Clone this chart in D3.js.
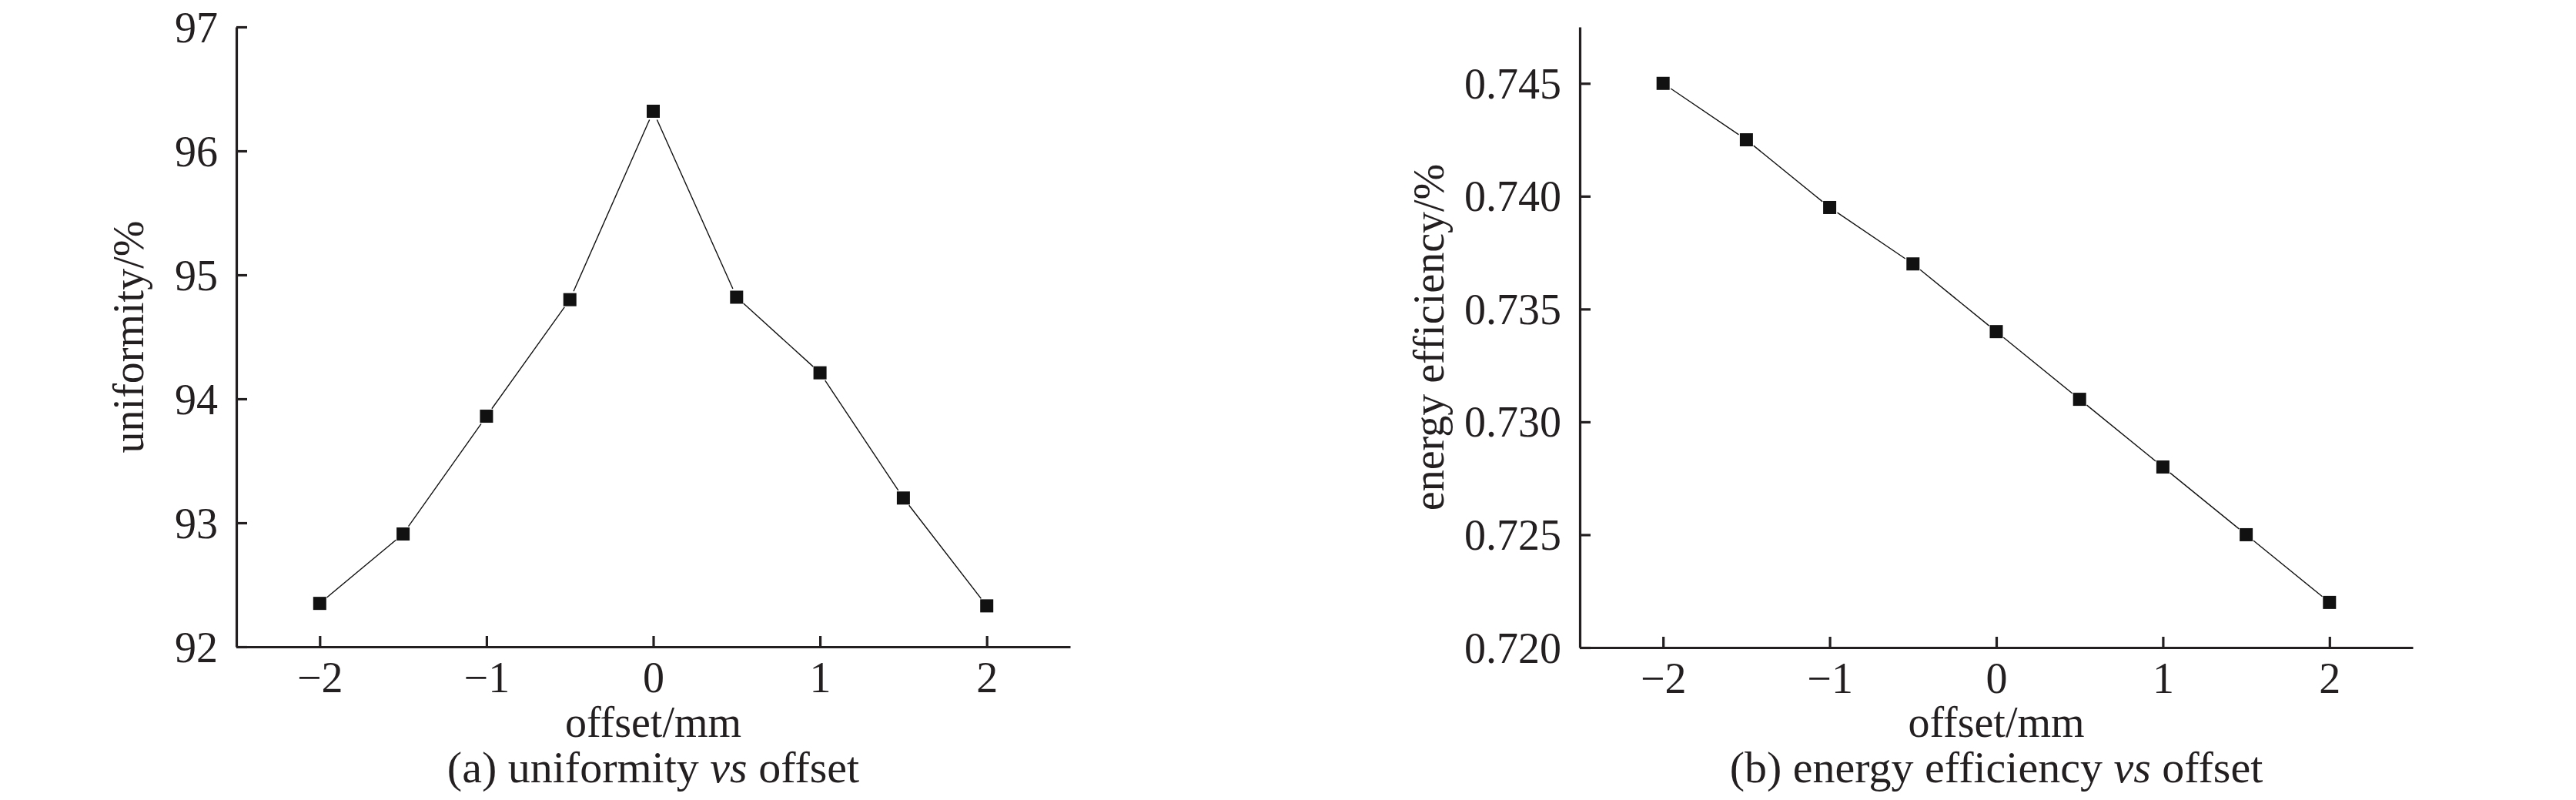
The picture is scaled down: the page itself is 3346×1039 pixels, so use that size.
<!DOCTYPE html>
<html>
<head>
<meta charset="utf-8">
<script src="https://cdn.jsdelivr.net/npm/d3@7"></script>
<style>
  body { margin: 0; background: #fff; }
  text { font-family: "Liberation Serif", "Times New Roman", serif; fill: #231f20; }
</style>
</head>
<body>
<div id="chart"></div>
<script>
// offset values (mm) shared by both panels
var offsets = [-2, -1.5, -1, -0.5, 0, 0.5, 1, 1.5, 2];
// panel (a): uniformity in %
var uniformity = [92.35, 92.91, 93.86, 94.80, 96.32, 94.82, 94.21, 93.20, 92.33];
// panel (b): energy efficiency
var efficiency = [0.745, 0.7425, 0.7395, 0.737, 0.734, 0.731, 0.728, 0.725, 0.722];

var xTicks = [-2, -1, 0, 1, 2];
var uniformityTicks = [92, 93, 94, 95, 96, 97];
var efficiencyTicks = [0.720, 0.725, 0.730, 0.735, 0.740, 0.745];

var W = 3346, H = 1039;
var fontSize = 56;

var svg = d3.select("#chart")
  .append("svg")
    .attr("width", W)
    .attr("height", H);

svg.append("rect").attr("width", W).attr("height", H).attr("fill", "#fff");

function panel(opt) {
  var x = d3.scaleLinear().domain([-2.5, 2.5]).range([opt.left, opt.right]);
  var y = d3.scaleLinear().domain(opt.yDomain).range([opt.bottom, opt.top]);

  // x axis, ticks pointing inward
  var gx = svg.append("g")
    .attr("transform", "translate(0," + opt.bottom + ")")
    .call(d3.axisBottom(x).tickValues(xTicks).tickSize(-14).tickSizeOuter(0).tickFormat(d3.format("d")));
  gx.selectAll("text")
    .attr("dy", null)
    .attr("y", 59)
    .style("font-size", fontSize + "px");

  // y axis
  var gy = svg.append("g")
    .attr("transform", "translate(" + opt.left + ",0)")
    .call(d3.axisLeft(y).tickValues(opt.yTicks).tickSize(-14).tickSizeOuter(0).tickPadding(24).tickFormat(opt.fmt));
  gy.selectAll("text")
    .attr("dy", "0.34em")
    .style("font-size", fontSize + "px");

  svg.selectAll(".domain, .tick line")
    .attr("stroke", "#231f20")
    .attr("stroke-width", 3.2);
  svg.selectAll(".tick text").attr("fill", "#231f20");

  // line segments with small gaps near the markers
  var pts = offsets.map(function(d, i) { return [x(d), y(opt.values[i])]; });
  var gap = 12;
  var segs = [];
  for (var i = 0; i < pts.length - 1; i++) {
    var a = pts[i], b = pts[i + 1];
    var dx = b[0] - a[0], dy = b[1] - a[1];
    var len = Math.sqrt(dx * dx + dy * dy);
    var ux = dx / len, uy = dy / len;
    segs.push([[a[0] + ux * gap, a[1] + uy * gap], [b[0] - ux * gap, b[1] - uy * gap]]);
  }
  svg.append("g").selectAll("line")
    .data(segs)
    .enter()
    .append("line")
      .attr("x1", function(d) { return d[0][0]; })
      .attr("y1", function(d) { return d[0][1]; })
      .attr("x2", function(d) { return d[1][0]; })
      .attr("y2", function(d) { return d[1][1]; })
      .attr("stroke", "#111")
      .attr("stroke-width", 1.4);

  var m = 17;
  svg.append("g").selectAll("rect")
    .data(offsets)
    .enter()
    .append("rect")
      .attr("x", function(d) { return x(d) - m / 2; })
      .attr("y", function(d, i) { return y(opt.values[i]) - m / 2; })
      .attr("width", m)
      .attr("height", m)
      .attr("fill", "#111");

  var cx = (opt.left + opt.right) / 2;
  var cy = (opt.top + opt.bottom) / 2;

  svg.append("text")
    .attr("transform", "translate(" + opt.yLabelX + "," + cy + ") rotate(-90)")
    .attr("text-anchor", "middle")
    .style("font-size", fontSize + "px")
    .text(opt.yLabel);

  svg.append("text")
    .attr("x", cx)
    .attr("y", 957)
    .attr("text-anchor", "middle")
    .style("font-size", fontSize + "px")
    .text("offset/mm");

  var cap = svg.append("text")
    .attr("x", cx)
    .attr("y", 1016)
    .attr("text-anchor", "middle")
    .style("font-size", "58px");
  cap.append("tspan").text(opt.capHead + " ");
  cap.append("tspan").style("font-style", "italic").text("vs");
  cap.append("tspan").text(" offset");
}

panel({
  left: 307, right: 1390, top: 35, bottom: 840,
  yDomain: [92, 97],
  yTicks: uniformityTicks,
  fmt: d3.format("d"),
  values: uniformity,
  yLabel: "uniformity/%",
  yLabelX: 186,
  capHead: "(a) uniformity"
});

panel({
  left: 2052, right: 3134, top: 35, bottom: 841,
  yDomain: [0.720, 0.7475],
  yTicks: efficiencyTicks,
  fmt: d3.format(".3f"),
  values: efficiency,
  yLabel: "energy efficiency/%",
  yLabelX: 1875,
  capHead: "(b) energy efficiency"
});
</script>
</body>
</html>
